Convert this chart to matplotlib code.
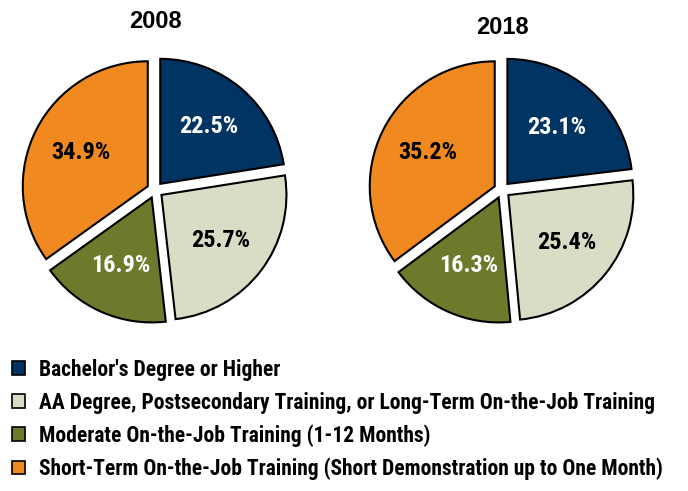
import matplotlib.pyplot as plt
from matplotlib.patches import Patch
from matplotlib import font_manager

# =====================================
# Data
# =====================================

categories = [
    "Bachelor's Degree or Higher",
    "AA Degree, Postsecondary Training, or Long-Term On-the-Job Training",
    "Moderate On-the-Job Training (1-12 Months)",
    "Short-Term On-the-Job Training (Short Demonstration up to One Month)",
]
years = ["2008", "2018"]
shares_2008 = [22.5, 25.7, 16.9, 34.9]
shares_2018 = [23.1, 25.4, 16.3, 35.2]

colors = ["#003462", "#D9DDC5", "#6B7A2B", "#F0891F"]
label_colors = ["white", "black", "white", "black"]

# =====================================
# Fonts (narrow bold, like Arial Narrow)
# =====================================

names = {f.name for f in font_manager.fontManager.ttflist}
narrow = [f for f in ["Roboto Condensed", "Archivo Narrow", "Liberation Sans", "DejaVu Sans"] if f in names]
wide = [f for f in ["Liberation Sans", "DejaVu Sans"] if f in names]
plt.rcParams["font.family"] = narrow or ["DejaVu Sans"]
plt.rcParams["font.weight"] = "bold"

# =====================================
# Figure
# =====================================

W, H = 688, 491
fig = plt.figure(figsize=(W / 100, H / 100), dpi=100)

r_px = 125
lim = 1.15
centers = [(155, 190), (502, 190)]
title_y = [22, 27]

for (cx, cy), ty, year, shares in zip(centers, title_y, years, [shares_2008, shares_2018]):
    half = r_px * lim
    ax = fig.add_axes([(cx - half) / W, (H - cy - half) / H, 2 * half / W, 2 * half / H])
    wedges, texts, autotexts = ax.pie(
        shares,
        colors=colors,
        startangle=90,
        counterclock=False,
        explode=[0.065] * 4,
        autopct="%.1f%%",
        pctdistance=0.6,
        wedgeprops={"edgecolor": "black", "linewidth": 1.5},
        textprops={"fontsize": 17.5, "fontweight": "bold"},
    )
    for t, c in zip(autotexts, label_colors):
        t.set_color(c)
    ax.set_xlim(-lim, lim)
    ax.set_ylim(-lim, lim)
    ax.set_aspect("equal")
    ax.axis("off")
    fig.text(cx / W, (H - ty) / H, year, ha="center", va="center",
             fontsize=17, fontweight="bold", family=wide)

handles = [Patch(facecolor=c, edgecolor="black", linewidth=1.2) for c in colors]
fig.legend(
    handles, categories,
    loc="upper left",
    bbox_to_anchor=(-0.004, 0.30),
    frameon=False,
    fontsize=15.5,
    handlelength=0.6,
    handleheight=0.6,
    handletextpad=0.65,
    labelspacing=0.5,
    borderaxespad=0.3,
)

fig.savefig("out.png", dpi=100)
